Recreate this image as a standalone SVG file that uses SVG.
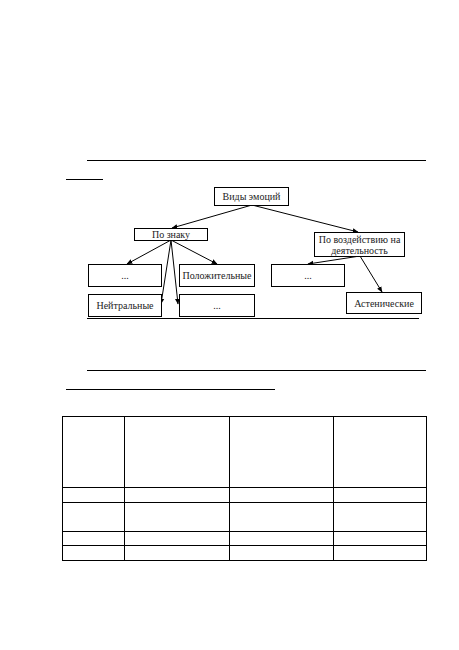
<svg xmlns="http://www.w3.org/2000/svg" width="459" height="650" viewBox="0 0 459 650">
<style>
.b{fill:#fff;stroke:#000;stroke-width:1}
.t{font-family:"Liberation Serif",serif;font-size:10px;fill:#222;text-anchor:middle}
.l{stroke:#000;stroke-width:1;fill:none}
.c{stroke:#000;stroke-width:1;fill:none;marker-end:url(#a)}
</style>
<defs>
<marker id="a" viewBox="0 0 10 10" refX="9" refY="5" markerWidth="6" markerHeight="6" orient="auto" markerUnits="userSpaceOnUse">
<path d="M0,1 L10,5 L0,9 z" fill="#000"/>
</marker>
</defs>
<rect width="459" height="650" fill="#fff"/>
<g id="textlines">
<line class="l" x1="87" y1="160.5" x2="426" y2="160.5"/>
<line class="l" x1="66" y1="179.5" x2="103" y2="179.5"/>
<line class="l" x1="87" y1="318.5" x2="419" y2="318.5"/>
<line class="l" x1="87" y1="370.5" x2="426" y2="370.5"/>
<line class="l" x1="66" y1="389.5" x2="275" y2="389.5"/>
</g>
<g id="connectors">
<line class="c" x1="252" y1="205" x2="172" y2="228"/>
<line class="c" x1="252" y1="205" x2="358" y2="232"/>
<line class="c" x1="171" y1="240" x2="127" y2="264"/>
<line class="c" x1="171" y1="240" x2="161" y2="304"/>
<line class="c" x1="171" y1="240" x2="178" y2="304"/>
<line class="c" x1="171" y1="240" x2="217" y2="264"/>
<line class="c" x1="360" y1="256" x2="308" y2="264"/>
<line class="c" x1="360" y1="256" x2="382" y2="292"/>
</g>
<g id="n-root"><rect class="b" x="214.5" y="187.5" width="74" height="18"/><text class="t" x="251.5" y="200">Виды эмоций</text></g>
<g id="n-sign"><rect class="b" x="134.5" y="228.5" width="73" height="12"/><text class="t" x="171" y="238">По знаку</text></g>
<g id="n-effect"><rect class="b" x="314.5" y="232.5" width="90" height="24"/><text class="t" x="359.5" y="242.5">По воздействию на</text><text class="t" x="359.5" y="254">деятельность</text></g>
<g id="n-dots1"><rect class="b" x="88.5" y="264.5" width="73" height="22"/><text class="t" x="125" y="278.5">...</text></g>
<g id="n-pos"><rect class="b" x="179.5" y="264.5" width="75" height="22"/><text class="t" x="217" y="278.5">Положительные</text></g>
<g id="n-dots3"><rect class="b" x="271.5" y="264.5" width="73" height="22"/><text class="t" x="308" y="278.5">...</text></g>
<g id="n-neu"><rect class="b" x="88.5" y="294.5" width="73" height="22"/><text class="t" x="125" y="308.5">Нейтральные</text></g>
<g id="n-dots2"><rect class="b" x="179.5" y="294.5" width="75" height="22"/><text class="t" x="217" y="308.5">...</text></g>
<g id="n-ast"><rect class="b" x="346.5" y="292.5" width="75" height="21"/><text class="t" x="384" y="306.5">Астенические</text></g>
<g id="table">
<rect class="l" x="62.5" y="416.5" width="364" height="144"/>
<line class="l" x1="124.5" y1="416" x2="124.5" y2="561"/>
<line class="l" x1="229.5" y1="416" x2="229.5" y2="561"/>
<line class="l" x1="333.5" y1="416" x2="333.5" y2="561"/>
<line class="l" x1="62" y1="487.5" x2="427" y2="487.5"/>
<line class="l" x1="62" y1="502.5" x2="427" y2="502.5"/>
<line class="l" x1="62" y1="531.5" x2="427" y2="531.5"/>
<line class="l" x1="62" y1="545.5" x2="427" y2="545.5"/>
</g>
</svg>
